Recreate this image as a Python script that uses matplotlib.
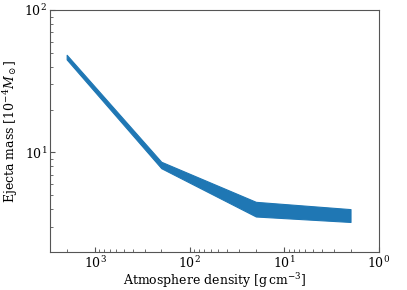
import numpy as np
import matplotlib
matplotlib.use("Agg")
import matplotlib.pyplot as plt

plt.rcParams['font.family'] = ['DejaVu Serif']
plt.rcParams['mathtext.fontset'] = 'dejavuserif'

# Atmosphere density [g cm^-3] and ejecta mass range [1e-4 Msun]
density = [2000, 200, 20, 2]
mass_upper = [48.5, 8.6, 4.5, 4.0]
mass_lower = [45.0, 7.75, 3.55, 3.25]

fig = plt.figure(figsize=(4.07, 2.90), dpi=100)
ax = fig.add_axes([50 / 407, 1 - 252 / 290, 329 / 407, 242 / 290])

ax.fill_between(density, mass_lower, mass_upper, color='#1f77b4', lw=0.8,
                edgecolor='#1f77b4')

ax.set_xscale('log')
ax.set_yscale('log')
ax.set_xlim(3000, 1)
ax.set_ylim(2, 100)

for s in ax.spines.values():
    s.set_color('#555555')
ax.tick_params(which='both', direction='in', colors='#555555',
               labelcolor='black', labelsize=9, pad=2)
ax.tick_params(which='major', length=3.5)
ax.tick_params(which='minor', length=2)

ax.set_xlabel(r'Atmosphere density [$\mathrm{g\,cm^{-3}}$]', fontsize=9,
              labelpad=0)
ax.set_ylabel(r'Ejecta mass [$10^{-4}M_\odot$]', fontsize=9, labelpad=3)

fig.savefig('out.png', dpi=100)
